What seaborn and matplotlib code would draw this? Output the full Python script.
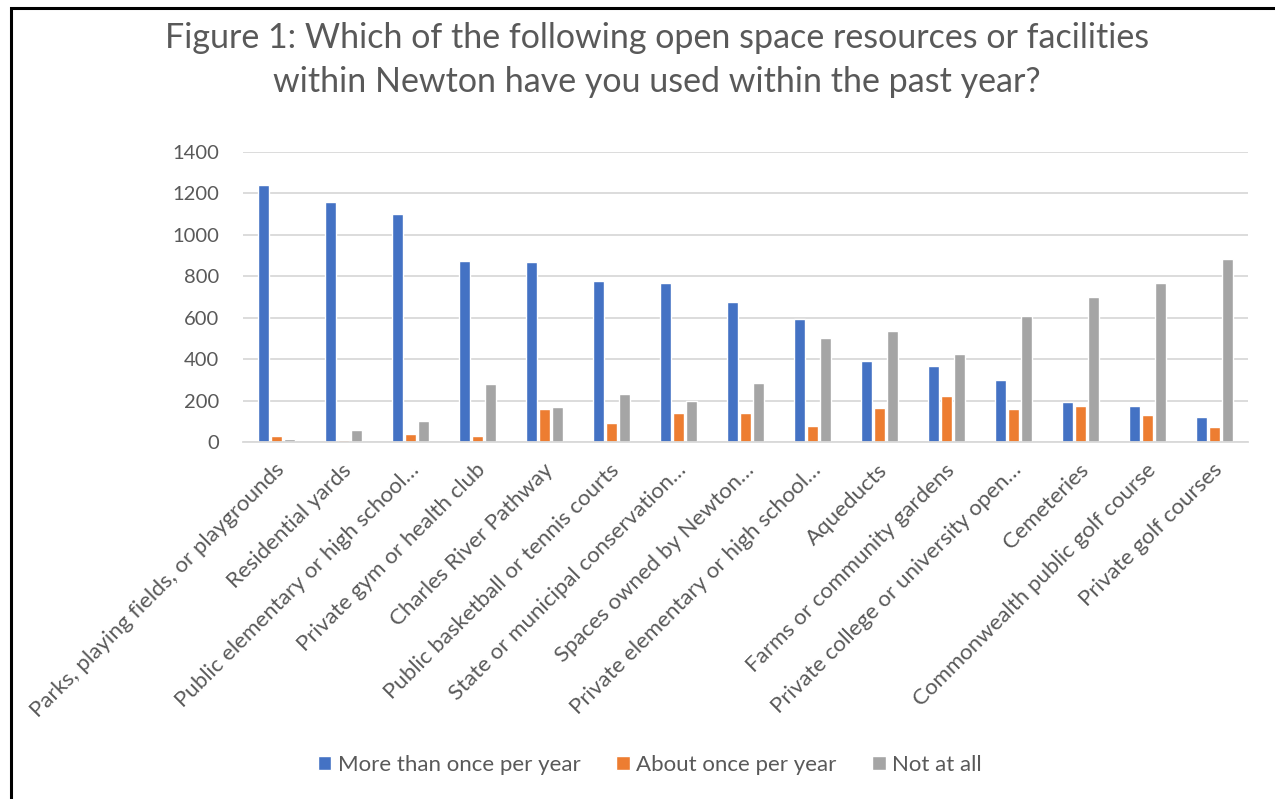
import pandas as pd
import numpy as np
import matplotlib
matplotlib.use("Agg")
import matplotlib.pyplot as plt
import matplotlib.transforms as mtrans
from matplotlib.patches import Rectangle
import seaborn as sns

# Chart data
categories = [
    "Parks, playing fields, or playgrounds",
    "Residential yards",
    "Public elementary or high school\u2026",
    "Private gym or health club",
    "Charles River Pathway",
    "Public basketball or tennis courts",
    "State or municipal conservation\u2026",
    "Spaces owned by Newton\u2026",
    "Private elementary or high school\u2026",
    "Aqueducts",
    "Farms or community gardens",
    "Private college or university open\u2026",
    "Cemeteries",
    "Commonwealth public golf course",
    "Private golf courses",
]
more_than_once = [1242, 1161, 1100, 873, 868, 777, 766, 676, 594, 390, 366, 297, 195, 176, 119]
about_once = [27, 11, 40, 31, 158, 90, 139, 139, 77, 165, 221, 160, 176, 132, 74]
not_at_all = [15, 60, 102, 282, 168, 231, 200, 287, 503, 534, 427, 608, 698, 769, 884]
series_names = ["More than once per year", "About once per year", "Not at all"]
colors = ["#4472C4", "#ED7D31", "#A5A5A5"]
yticks = [0, 200, 400, 600, 800, 1000, 1200, 1400]

title = ("Figure 1: Which of the following open space resources or facilities\n"
         "within Newton have you used within the past year?")

# long form table for seaborn
df = pd.DataFrame({
    "Facility": categories * 3,
    "Series": np.repeat(series_names, len(categories)),
    "Count": more_than_once + about_once + not_at_all,
})

sns.set_theme(style="white")
plt.rcParams["font.family"] = ["Lato", "DejaVu Sans"]
text_col = "#595959"

fig = plt.figure(figsize=(12.75, 7.99), dpi=100)
ax = fig.add_axes([243 / 1275, 1 - 442 / 799, (1248 - 243) / 1275, (442 - 152) / 799])

sns.barplot(data=df, x="Facility", y="Count", hue="Series", order=categories,
            hue_order=series_names, palette=colors, width=0.58, gap=0.15,
            saturation=1, ax=ax, legend=True)

ax.set_ylim(0, 1400)
ax.set_xlim(-0.5, len(categories) - 0.5)
ax.set_yticks(yticks)
ax.set_yticklabels([str(v) for v in yticks], fontsize=14.5, color=text_col)
ax.yaxis.grid(True, color="#D9D9D9", linewidth=1.3)
ax.set_axisbelow(True)
for s in ["top", "right", "left"]:
    ax.spines[s].set_visible(False)
ax.spines["bottom"].set_color("#D9D9D9")
ax.spines["bottom"].set_linewidth(1.3)
ax.tick_params(axis="y", length=0, pad=17)
ax.tick_params(axis="x", length=0, pad=18)
ax.set_xlabel("")
ax.set_ylabel("")
ax.set_xticks(range(len(categories)))
ax.set_xticklabels(categories, rotation=45, ha="right", rotation_mode="anchor",
                   fontsize=16, color=text_col)
shift = mtrans.ScaledTranslation(5 / 100, 0, fig.dpi_scale_trans)
for lab in ax.get_xticklabels():
    lab.set_va("center")
    lab.set_transform(lab.get_transform() + shift)

handles, labels = ax.get_legend_handles_labels()
ax.legend_.remove()
fig.legend(handles, labels, loc="center", bbox_to_anchor=(650 / 1275, 1 - 765 / 799),
           ncol=3, frameon=False, fontsize=16, handlelength=0.6, handleheight=0.6,
           handletextpad=0.3, columnspacing=1.6, labelcolor=text_col)

fig.suptitle(title, x=657 / 1275, y=1 - 22 / 799, va="top", fontsize=24.5,
             color=text_col, linespacing=1.45)

# outer frame of the original chart box
fig.patches.append(Rectangle((11 / 1275, -0.05), 1.2, 1 - 7.5 / 799 + 0.05,
                             transform=fig.transFigure, fill=False,
                             edgecolor="black", linewidth=2.2))

fig.savefig("out.png", dpi=100)
